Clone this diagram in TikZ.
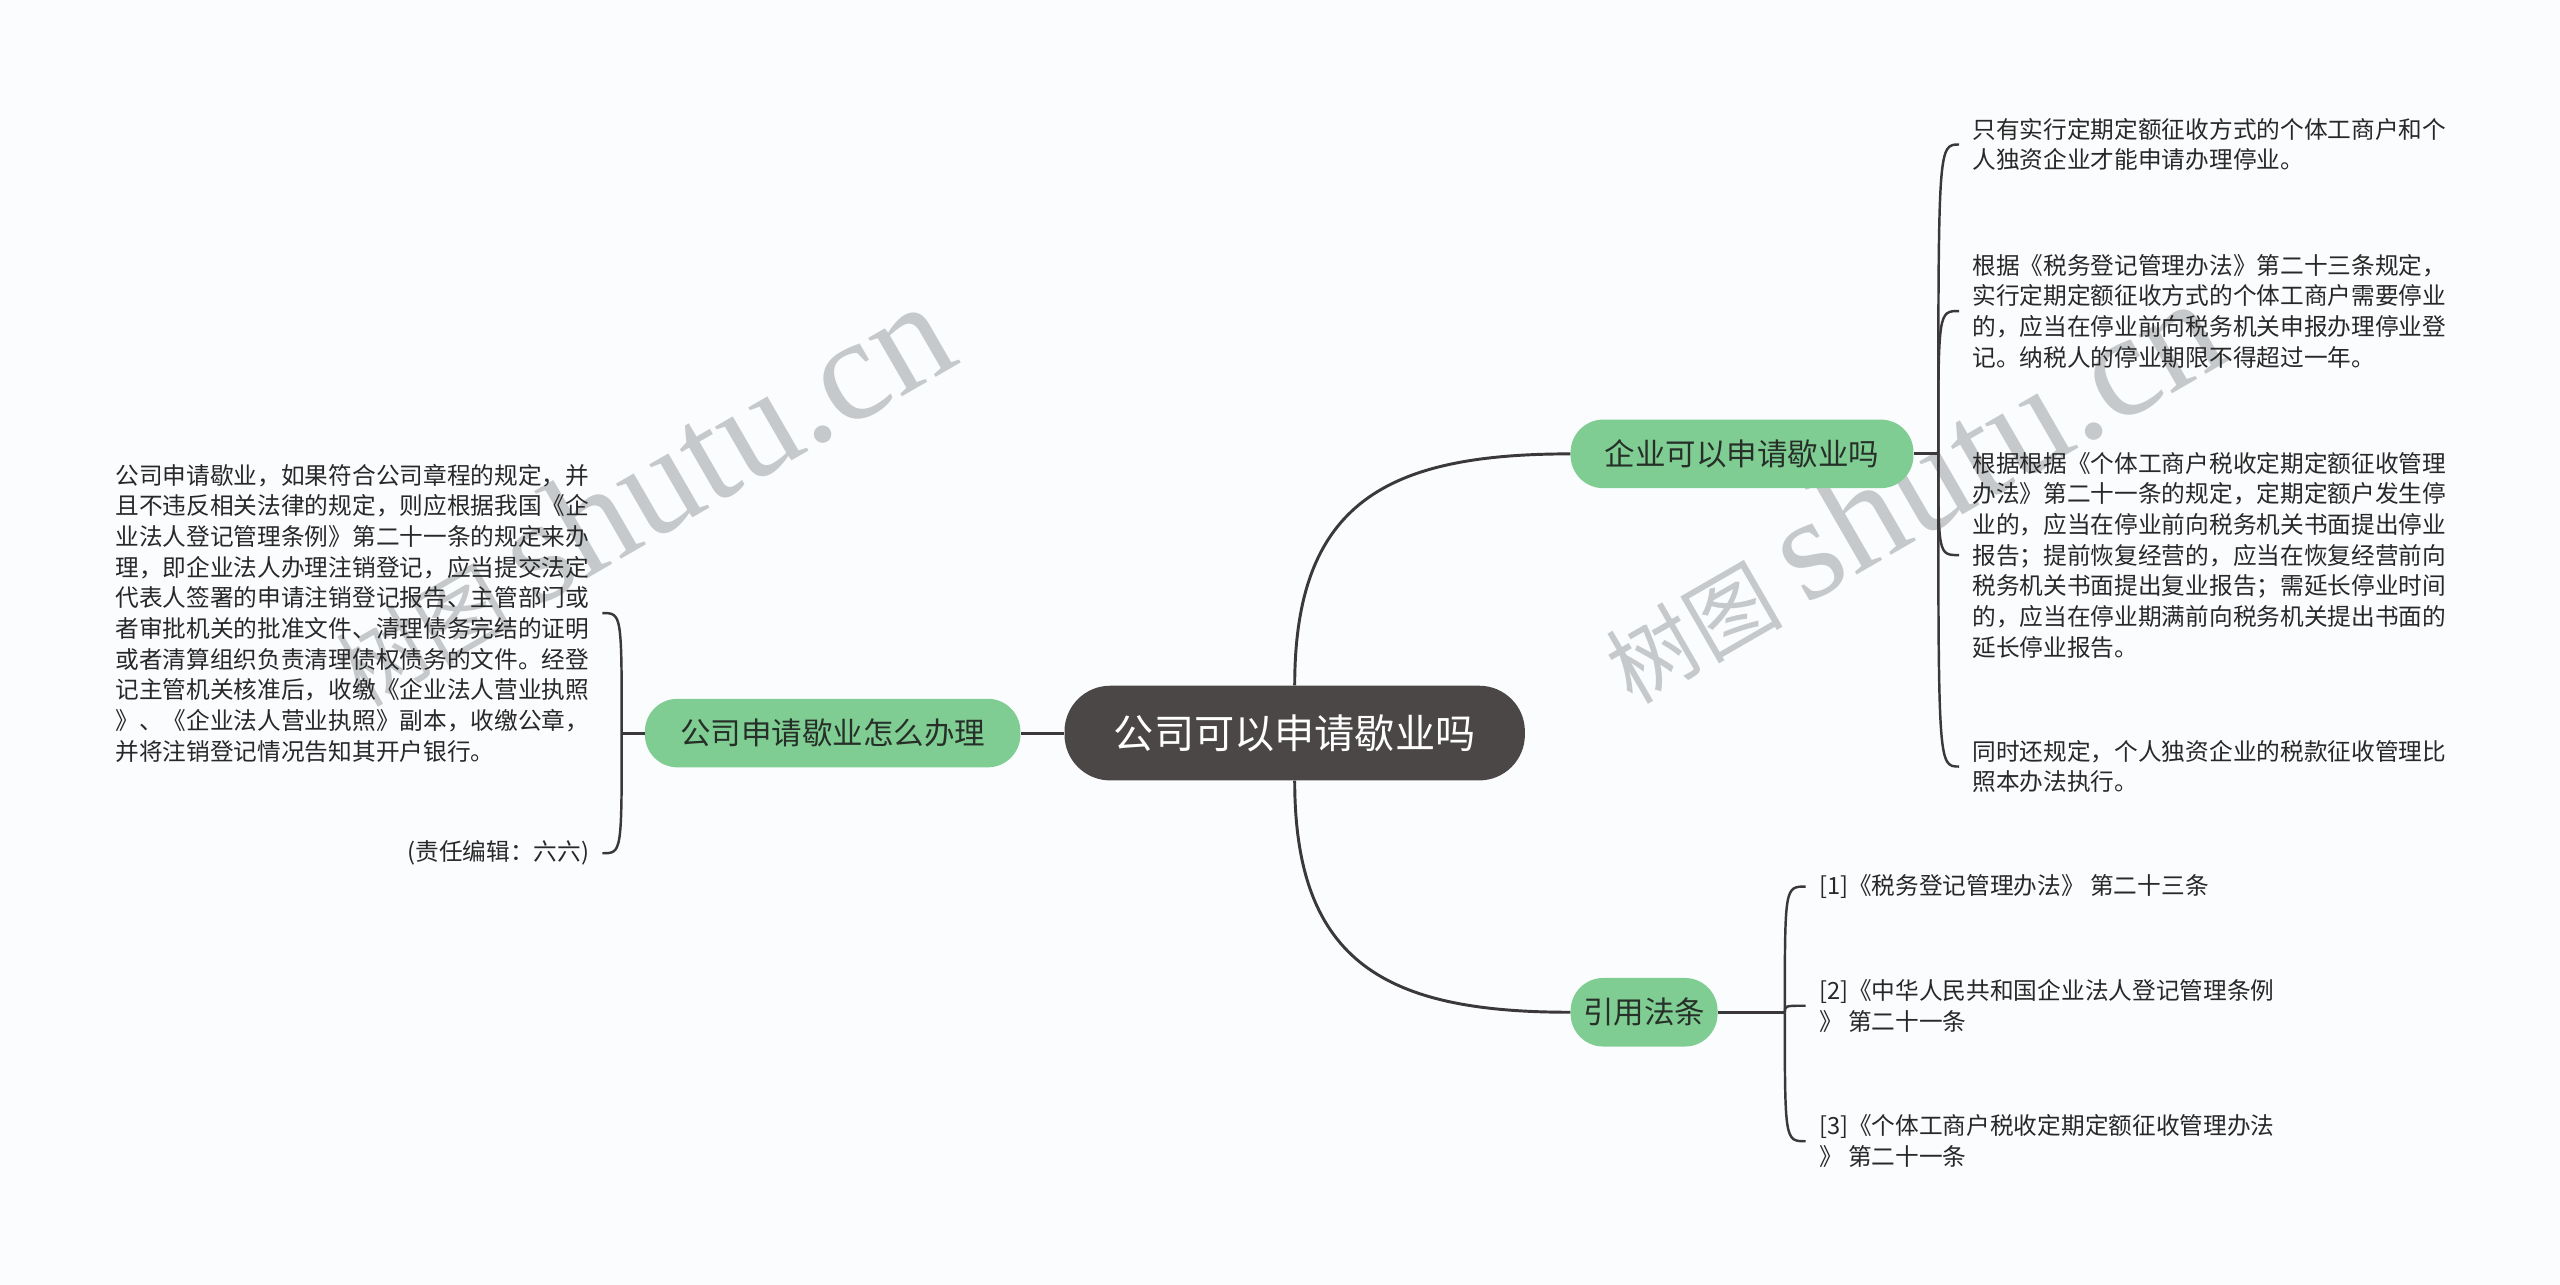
\documentclass[tikz,border=0pt]{standalone}
\usepackage{fontspec}
\setmainfont{Noto Sans CJK SC}
\newfontfamily\wmserif{Liberation Serif}
\usepackage{tikz}
\usetikzlibrary{calc}
\definecolor{paperbg}{RGB}{250,252,253}
\definecolor{rootgray}{RGB}{75,71,71}
\definecolor{topicgreen}{RGB}{128,205,148}
\definecolor{topicink}{RGB}{38,48,40}
\definecolor{linkgray}{RGB}{58,56,56}
\definecolor{leafink}{RGB}{40,40,40}
\definecolor{markgray}{RGB}{198,201,203}

\tikzset{
  rootbox/.style={fill=rootgray, text=white, rounded corners=28pt, minimum width=282pt, minimum height=58pt, inner sep=0pt, font=\fontsize{24.6pt}{28pt}\selectfont},
  topicbox/.style={fill=topicgreen, text=topicink, rounded corners=20pt, minimum height=42pt, inner sep=0pt, font=\fontsize{18.7pt}{22pt}\selectfont},
  leaf/.style={text=leafink, align=left, inner xsep=8pt, inner ysep=0pt, font=\fontsize{14.5pt}{18.8pt}\selectfont},
  link/.style={linkgray, line width=1.8pt},
  branch/.style={linkgray, line width=1.5pt},
  watermark/.style={text=markgray, inner sep=0pt, rotate=30, anchor=base west}
}

\begin{document}
\begin{tikzpicture}[x=1pt,y=-1pt]

% 1. PAPER
\useasboundingbox (0,0) rectangle (1568,787);
\fill[paperbg] (0,0) rectangle (1568,787);

% Watermarks
\node[watermark] (markl) at (222,434) {{\fontsize{54pt}{54pt}\selectfont 树图}\hspace{14pt}{\wmserif\fontsize{90pt}{90pt}\selectfont shutu.cn}};
\node[watermark] (markr) at (1000,432) {{\fontsize{54pt}{54pt}\selectfont 树图}\hspace{14pt}{\wmserif\fontsize{90pt}{90pt}\selectfont shutu.cn}};

% 2. CENTRE AND MAIN TOPICS
\node[rootbox] (root) at (793,449) {公司可以申请歇业吗};
\node[topicbox, minimum width=230pt] (how) at (510,449) {公司申请歇业怎么办理};
\node[topicbox, minimum width=210pt] (can) at (1067,278) {企业可以申请歇业吗};
\node[topicbox, minimum width=90pt] (law) at (1007,620) {引用法条};

\draw[link] (root.west) -- (how.east);
\draw[link] (root.north) to[out=90, in=180, looseness=1.3] (can.west);
\draw[link] (root.south) to[out=-90, in=180, looseness=1.3] (law.west);

% 3. LEFT: HOW TO CLOSE
\node[leaf, anchor=east] (howtext) at (369,375.5) {公司申请歇业，如果符合公司章程的规定，并\\
且不违反相关法律的规定，则应根据我国《企\\
业法人登记管理条例》第二十一条的规定来办\\
理，即企业法人办理注销登记，应当提交法定\\
代表人签署的申请注销登记报告、主管部门或\\
者审批机关的批准文件、清理债务完结的证明\\
或者清算组织负责清理债权债务的文件。经登\\
记主管机关核准后，收缴《企业法人营业执照\\
》、《企业法人营业执照》副本，收缴公章，\\
并将注销登记情况告知其开户银行。};
\node[leaf, anchor=east] (editor) at (369,522.6) {(责任编辑：六六)};

\draw[link] (how.west) -- ++(-14,0) coordinate (howj);
\draw[branch] (howj) .. controls (howj |- howtext.east) .. (howtext.east);
\draw[branch] (howj) .. controls (howj |- editor.east) .. (editor.east);

% 4. RIGHT TOP: CAN A FIRM SUSPEND
\node[leaf, anchor=west] (onlyfix) at (1200,88.5) {只有实行定期定额征收方式的个体工商户和个\\
人独资企业才能申请办理停业。};
\node[leaf, anchor=west] (taxreg) at (1200,190.5) {根据《税务登记管理办法》第二十三条规定，\\
实行定期定额征收方式的个体工商户需要停业\\
的，应当在停业前向税务机关申报办理停业登\\
记。纳税人的停业期限不得超过一年。};
\node[leaf, anchor=west] (fixrule) at (1200,340) {根据根据《个体工商户税收定期定额征收管理\\
办法》第二十一条的规定，定期定额户发生停\\
业的，应当在停业前向税务机关书面提出停业\\
报告；提前恢复经营的，应当在恢复经营前向\\
税务机关书面提出复业报告；需延长停业时间\\
的，应当在停业期满前向税务机关提出书面的\\
延长停业报告。};
\node[leaf, anchor=west] (soleprop) at (1200,469.5) {同时还规定，个人独资企业的税款征收管理比\\
照本办法执行。};

\draw[link] (can.east) -- ++(15,0) coordinate (canj);
\foreach \kid in {onlyfix,taxreg,fixrule,soleprop}
  \draw[branch] (canj) .. controls (canj |- \kid.west) .. (\kid.west);

% 5. RIGHT BOTTOM: CITED LAWS
\node[leaf, anchor=west] (lawone) at (1106,543) {[1]《税务登记管理办法》 第二十三条};
\node[leaf, anchor=west] (lawtwo) at (1106,616) {[2]《中华人民共和国企业法人登记管理条例\\
》 第二十一条};
\node[leaf, anchor=west] (lawthree) at (1106,699) {[3]《个体工商户税收定期定额征收管理办法\\
》 第二十一条};

\draw[link] (law.east) -- ++(41,0) coordinate (lawj);
\foreach \kid in {lawone,lawtwo,lawthree}
  \draw[branch] (lawj) .. controls (lawj |- \kid.west) .. (\kid.west);

\end{tikzpicture}
\end{document}
